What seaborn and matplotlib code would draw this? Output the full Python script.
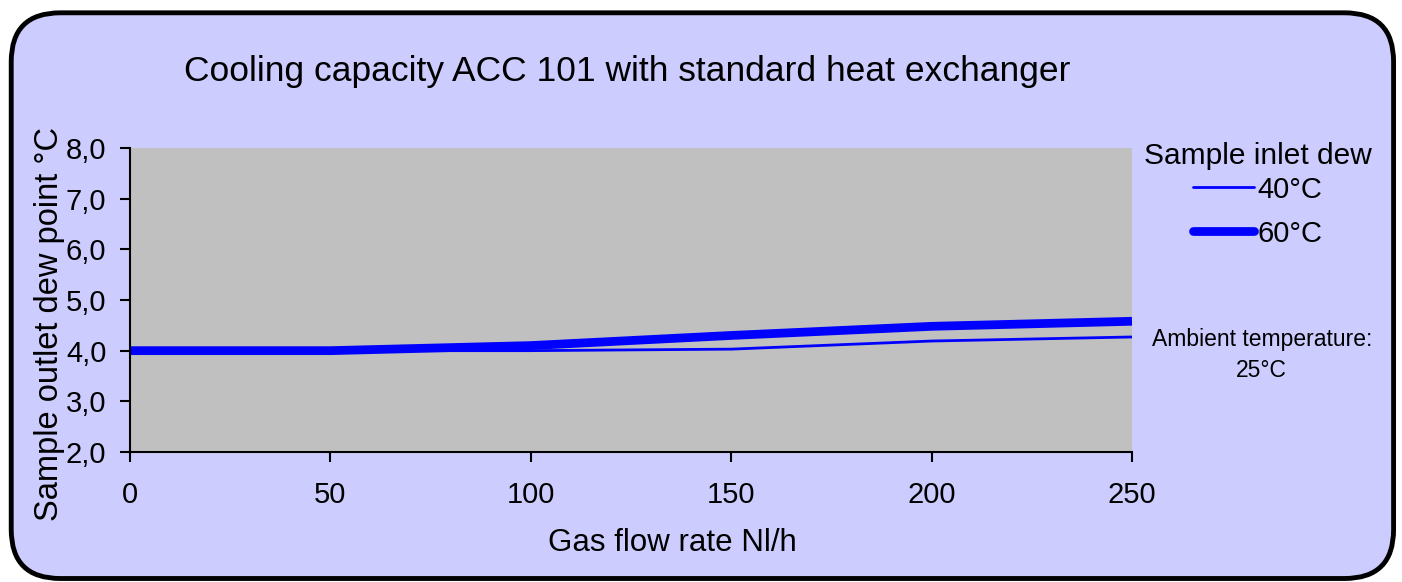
import numpy as np
import pandas as pd
import seaborn as sns
import matplotlib.pyplot as plt
from matplotlib.patches import FancyBboxPatch
from matplotlib.lines import Line2D
from matplotlib.ticker import FuncFormatter

# data
flow = [0, 50, 100, 150, 200, 250]
dew_40 = [4.0, 4.0, 4.0, 4.03, 4.19, 4.27]
dew_60 = [4.0, 4.0, 4.1, 4.3, 4.48, 4.58]
series_labels = ["40°C", "60°C"]
x_ticks = [0, 50, 100, 150, 200, 250]
y_ticks = [2, 3, 4, 5, 6, 7, 8]

df = pd.DataFrame({
    "flow": flow * 2,
    "dew": dew_40 + dew_60,
    "inlet": [series_labels[0]] * len(flow) + [series_labels[1]] * len(flow),
})

sns.set_style("ticks")
plt.rcParams['font.family'] = ['Liberation Sans', 'DejaVu Sans']
plt.rcParams['text.color'] = 'black'
plt.rcParams['axes.labelcolor'] = 'black'

fig = plt.figure(figsize=(14.02, 5.82), dpi=100)
fig.patch.set_facecolor("white")

# rounded lavender frame
frame = FancyBboxPatch((0.008, 0.006), 0.986, 0.972,
                       boxstyle="round,pad=0,rounding_size=0.035",
                       transform=fig.transFigure, facecolor="#CCCCFF",
                       edgecolor="black", linewidth=3.5, mutation_aspect=2.4,
                       zorder=-10)
fig.patches.append(frame)

ax = fig.add_axes([0.0927, 0.2234, 0.7147, 0.5223])
ax.set_zorder(5)
ax.set_facecolor("#C0C0C0")

blue = "#0000FF"
sns.lineplot(data=df[df.inlet == series_labels[0]], x="flow", y="dew",
             color=blue, linewidth=2.0, ax=ax, legend=False)
sns.lineplot(data=df[df.inlet == series_labels[1]], x="flow", y="dew",
             color=blue, linewidth=6.3, ax=ax, legend=False,
             solid_capstyle="butt")

ax.set_xlim(0, 250)
ax.set_ylim(2, 8)
ax.set_xticks(x_ticks)
ax.set_yticks(y_ticks)
ax.yaxis.set_major_formatter(FuncFormatter(lambda v, p: f"{v:.1f}".replace(".", ",")))
ax.tick_params(axis="both", direction="out", length=7, width=1.5,
               labelsize=21, colors="black")
ax.tick_params(axis="x", pad=14)
ax.tick_params(axis="y", pad=10)
for s in ["top", "right"]:
    ax.spines[s].set_visible(False)
for s in ["left", "bottom"]:
    ax.spines[s].set_linewidth(1.5)
    ax.spines[s].set_color("black")

ax.set_xlabel("Gas flow rate Nl/h", fontsize=22.5)
ax.xaxis.set_label_coords(0.541, -0.25)
ax.set_ylabel("Sample outlet dew point °C", fontsize=23.5)
ax.yaxis.set_label_coords(-0.065, 0.42)

fig.text(0.447, 0.878, "Cooling capacity ACC 101 with standard heat exchanger",
         fontsize=25.5, ha="center", va="center")

handles = [Line2D([0], [0], color=blue, linewidth=2.0),
           Line2D([0], [0], color=blue, linewidth=6.3, solid_capstyle="round")]
leg = fig.legend(handles, series_labels, title="Sample inlet dew",
                 loc="upper center", bbox_to_anchor=(0.897, 0.776),
                 frameon=False, fontsize=21, title_fontsize=21.5,
                 handlelength=2.1, handletextpad=0.12, labelspacing=0.55,
                 borderaxespad=0)
leg._legend_box.align = "center"
leg._legend_box.sep = 4
leg.set_zorder(6)

fig.text(0.9, 0.39, "Ambient temperature:\n25°C", fontsize=16.5,
         ha="center", va="center", linespacing=1.4)

fig.savefig("out.png", dpi=100, facecolor=fig.get_facecolor())
